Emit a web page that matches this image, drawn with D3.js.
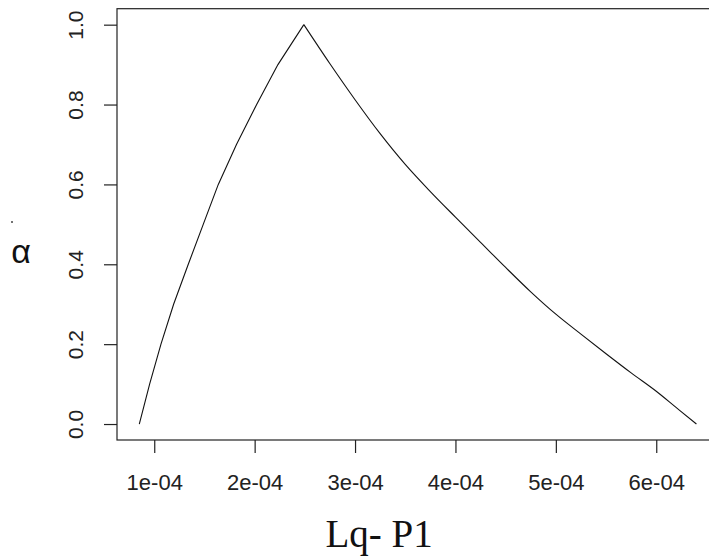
<!DOCTYPE html>
<html>
<head>
<meta charset="utf-8">
<script src="https://cdn.jsdelivr.net/npm/d3@7"></script>
<style>
  html, body { margin: 0; padding: 0; background: #fff; }
  svg { display: block; }
</style>
</head>
<body>
<svg id="chart" width="709" height="558"></svg>
<script>
// Rising branch: Lq - P1 values at alpha = 0, 0.1, ..., 1
const riseX = [0.851e-4, 0.954e-4, 1.067e-4, 1.193e-4, 1.339e-4, 1.488e-4, 1.638e-4, 1.819e-4, 2.020e-4, 2.232e-4, 2.49e-4];
const riseAlpha = [0.0, 0.1, 0.2, 0.3, 0.4, 0.5, 0.6, 0.7, 0.8, 0.9, 1.0];
// Falling branch
const fallX = [2.49e-4, 2.75e-4, 3.0e-4, 3.25e-4, 3.5e-4, 3.75e-4, 4.0e-4, 4.25e-4, 4.5e-4, 4.75e-4, 5.0e-4, 5.25e-4, 5.5e-4, 5.75e-4, 6.0e-4, 6.2e-4, 6.4e-4];
const fallAlpha = [1.0, 0.902, 0.812, 0.727, 0.650, 0.582, 0.518, 0.455, 0.392, 0.331, 0.275, 0.225, 0.176, 0.128, 0.082, 0.041, 0.0];

const xTicks = [1e-4, 2e-4, 3e-4, 4e-4, 5e-4, 6e-4];
const xTickLabels = ["1e-04", "2e-04", "3e-04", "4e-04", "5e-04", "6e-04"];
const yTicks = [0, 0.2, 0.4, 0.6, 0.8, 1.0];
const yTickLabels = ["0.0", "0.2", "0.4", "0.6", "0.8", "1.0"];

const xLabel = "Lq- P1";
const yLabel = "α";

const svg = d3.select("#chart");

// Data range padded by 4% on each side
const xAll = riseX.concat(fallX);
const xMin = d3.min(xAll), xMax = d3.max(xAll);
const xPad = (xMax - xMin) * 0.04;
const x = d3.scaleLinear().domain([xMin - xPad, xMax + xPad]).range([117, 718.7]);
const y = d3.scaleLinear().domain([-0.04, 1.04]).range([440, 8.7]);

const risePts = riseX.map((v, i) => [v, riseAlpha[i]]);
const fallPts = fallX.map((v, i) => [v, fallAlpha[i]]);

// Plot frame
svg.append("rect")
  .attr("x", x.range()[0]).attr("y", y.range()[1])
  .attr("width", x.range()[1] - x.range()[0])
  .attr("height", y.range()[0] - y.range()[1])
  .attr("fill", "none").attr("stroke", "#222").attr("stroke-width", 1.2);

// Curve: piecewise rise, smooth decay
svg.append("path")
  .datum(risePts)
  .attr("d", d3.line().x(d => x(d[0])).y(d => y(d[1])))
  .attr("fill", "none").attr("stroke", "#111").attr("stroke-width", 1.1)
  .attr("stroke-linejoin", "miter");
svg.append("path")
  .datum(fallPts)
  .attr("d", d3.line().x(d => x(d[0])).y(d => y(d[1])).curve(d3.curveMonotoneX))
  .attr("fill", "none").attr("stroke", "#111").attr("stroke-width", 1.1);

// Bottom axis
const xAxis = d3.axisBottom(x).tickValues(xTicks)
  .tickFormat((d, i) => xTickLabels[i]).tickSize(13).tickSizeOuter(0).tickPadding(21);
const gx = svg.append("g").attr("transform", "translate(0,440)").call(xAxis);
gx.select(".domain").remove();
gx.selectAll(".tick line").attr("stroke", "#222").attr("stroke-width", 1.2);
gx.selectAll(".tick text")
  .attr("font-family", "Liberation Sans, Arial, sans-serif")
  .attr("font-size", 22).attr("fill", "#222");

// Left axis with rotated labels
const yAxis = d3.axisLeft(y).tickValues(yTicks)
  .tickFormat((d, i) => yTickLabels[i]).tickSize(13).tickSizeOuter(0);
const gy = svg.append("g").attr("transform", "translate(117,0)").call(yAxis);
gy.select(".domain").remove();
gy.selectAll(".tick line").attr("stroke", "#222").attr("stroke-width", 1.2);
gy.selectAll(".tick text")
  .attr("x", null).attr("dy", null)
  .attr("transform", "translate(-34,0) rotate(-90)")
  .attr("text-anchor", "middle")
  .attr("font-family", "Liberation Sans, Arial, sans-serif")
  .attr("font-size", 21).attr("fill", "#222");

// Axis titles
svg.append("text")
  .attr("x", 379).attr("y", 546.5)
  .attr("text-anchor", "middle")
  .attr("font-family", "Liberation Serif, Times New Roman, serif")
  .attr("font-size", 39).attr("fill", "#111")
  .text(xLabel);

svg.append("circle").attr("cx", 12).attr("cy", 222).attr("r", 1).attr("fill", "#444");
svg.append("text")
  .attr("x", 21).attr("y", 263)
  .attr("text-anchor", "middle")
  .attr("font-family", "Liberation Sans, Arial, sans-serif")
  .attr("font-size", 34).attr("fill", "#111")
  .text(yLabel);
</script>
</body>
</html>
